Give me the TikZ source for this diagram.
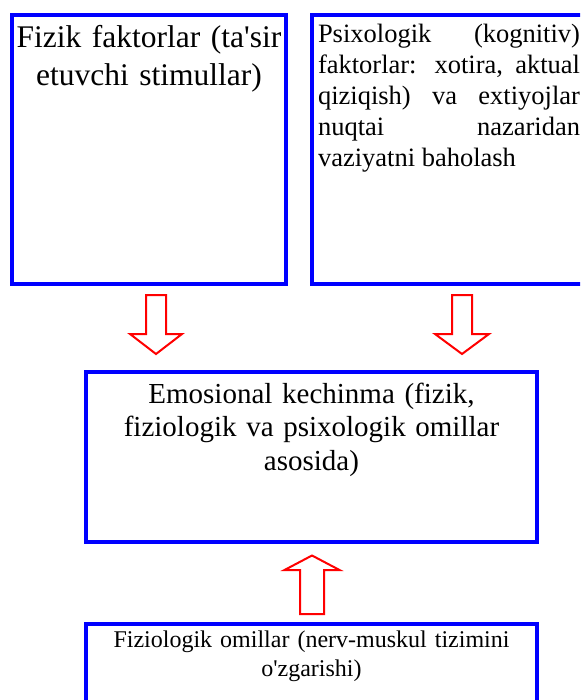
\documentclass[tikz,border=0pt]{standalone}
\usepackage{fontspec}
\setmainfont{Liberation Serif}[Ligatures=TeXOff]
\begin{document}
\begin{tikzpicture}[x=1pt,y=-1pt,
  box/.style={draw=blue, line width=4pt, rectangle, inner sep=0pt, outer sep=0pt},
  txt/.style={inner sep=0pt, outer sep=0pt, text=black},
  barrow/.style={draw=red, line width=2pt, fill=white, line join=miter}]
\useasboundingbox (0,0) rectangle (580,700);
\clip (0,0) rectangle (580,700);
% boxes
\node[box, minimum width=274pt, minimum height=269pt] (b1) at (149,149.5) {};
\node[box, minimum width=278pt, minimum height=269pt] (b2) at (451,149.5) {};
\node[box, minimum width=451pt, minimum height=170pt] (emo) at (311.5,457) {};
\node[box, minimum width=451pt, minimum height=96pt] (fiz) at (311.5,672) {};
% texts
\node[txt, anchor=north, text width=270pt, align=center,
  font=\fontsize{31.5}{38}\selectfont] (t1) at (149,25)
  {Fizik faktorlar (ta'sir\\ etuvchi stimullar)};
\node[txt, anchor=north west, text width=262pt, align=justify,
  font=\fontsize{26.5}{31}\selectfont] (t2) at (318,24.6)
  {Psixologik (kognitiv)\linebreak faktorlar: xotira, aktual\linebreak qiziqish) va extiyojlar\linebreak nuqtai nazaridan\linebreak vaziyatni baholash};
\node[txt, anchor=north, text width=440pt, align=center,
  font=\fontsize{29}{33.5}\selectfont] (t3) at (311.5,383)
  {Emosional kechinma (fizik,\\ fiziologik va psixologik omillar\\ asosida)};
\node[txt, anchor=north, text width=440pt, align=center,
  font=\fontsize{24}{29}\selectfont] (t4) at (311.5,631.3)
  {Fiziologik omillar (nerv-muskul tizimini\\ o'zgarishi)};
% block arrows
\coordinate (a1) at (156,354);
\coordinate (a2) at (462,354);
\coordinate (a3) at (312,555.5);
\draw[barrow] (a1) -- ++(-26,-20) -- ++(16,0) -- ++(0,-39) -- ++(20,0) -- ++(0,39) -- ++(16,0) -- cycle;
\draw[barrow] (a2) -- ++(-27,-20) -- ++(17,0) -- ++(0,-39) -- ++(20,0) -- ++(0,39) -- ++(17,0) -- cycle;
\draw[barrow] (a3) -- ++(-27.5,14.5) -- ++(15.5,0) -- ++(0,44) -- ++(24,0) -- ++(0,-44) -- ++(15.5,0) -- cycle;
\end{tikzpicture}
\end{document}
